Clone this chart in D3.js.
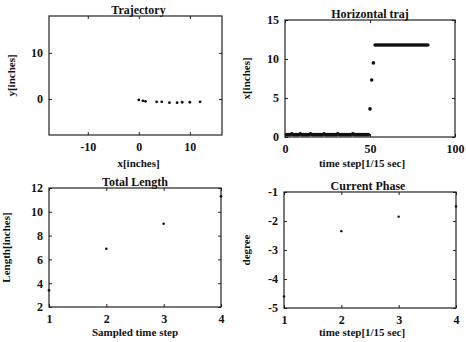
<!DOCTYPE html>
<html>
<head>
<meta charset="utf-8">
<script src="https://cdn.jsdelivr.net/npm/d3@7"></script>
<style>
  body { margin: 0; background: #fff; }
  svg text { font-family: "Liberation Serif", "DejaVu Serif", serif; fill: #111; }
</style>
</head>
<body>
<svg id="chart" width="466" height="342"></svg>
<script>
// ---------------- dados ----------------
// trajetoria (x,y em polegadas)
var trajX = [0, 0.8, 1.3, 3.5, 4.5, 6, 7.5, 8.5, 10, 12];
var trajY = [-0.2, -0.4, -0.5, -0.6, -0.6, -0.8, -0.8, -0.7, -0.7, -0.6];

// trajetoria horizontal: x[inches] por passo de tempo (passo = indice + 1)
var hzX = [
  0.3, 0.3, 0.3, 0.4, 0.3, 0.3, 0.3, 0.3, 0.4, 0.3,
  0.3, 0.3, 0.3, 0.3, 0.4, 0.3, 0.3, 0.3, 0.3, 0.3,
  0.3, 0.3, 0.4, 0.3, 0.3, 0.3, 0.3, 0.3, 0.3, 0.3,
  0.4, 0.3, 0.3, 0.3, 0.3, 0.3, 0.3, 0.3, 0.3, 0.4,
  0.3, 0.3, 0.3, 0.3, 0.3, 0.3, 0.3, 0.3, 0.3,
  3.6, 7.3, 9.5,
  11.8, 11.8, 11.8, 11.8, 11.8, 11.8, 11.8, 11.8, 11.8, 11.8,
  11.8, 11.8, 11.8, 11.8, 11.8, 11.8, 11.8, 11.8, 11.8, 11.8,
  11.8, 11.8, 11.8, 11.8, 11.8, 11.8, 11.8, 11.8, 11.8, 11.8,
  11.8, 11.8
];

// comprimento total e fase por passo amostrado
var passos = [1, 2, 3, 4];
var comprimento = [3.4, 6.9, 9.0, 11.3];
var fase = [-4.6, -2.35, -1.85, -1.5];

// ticks
var trajXTicks = [-10, 0, 10];
var trajYTicks = [0, 10];
var hzXTicks = [0, 50, 100];
var hzYTicks = [0, 5, 10, 15];
var passoTicks = [1, 2, 3, 4];
var compTicks = [2, 4, 6, 8, 10, 12];
var faseTicks = [-5, -4, -3, -2, -1];

var svg = d3.select("#chart");

// rotulo com hifen simples (como no original)
function formataTick(d) {
  return String(d);
}

//------------------------------------------------------------
// desenha um painel com caixa, ticks nos quatro lados e rotulos
function constroiPainel(cfg) {
  var g = svg.append("g");
  var xScale = d3.scaleLinear().domain(cfg.xDom).range([cfg.left, cfg.right]);
  var yScale = d3.scaleLinear().domain(cfg.yDom).range([cfg.bottom, cfg.top]);

  // eixos (ticks para dentro)
  g.append("g").attr("transform", "translate(0," + cfg.bottom + ")")
    .call(d3.axisBottom(xScale).tickValues(cfg.xTicks).tickSize(-3).tickPadding(7).tickFormat(formataTick));
  g.append("g").attr("transform", "translate(0," + cfg.top + ")")
    .call(d3.axisTop(xScale).tickValues(cfg.xTicks).tickSize(-3).tickFormat(""));
  g.append("g").attr("transform", "translate(" + cfg.left + ",0)")
    .call(d3.axisLeft(yScale).tickValues(cfg.yTicks).tickSize(-3).tickPadding(6).tickFormat(formataTick));
  g.append("g").attr("transform", "translate(" + cfg.right + ",0)")
    .call(d3.axisRight(yScale).tickValues(cfg.yTicks).tickSize(-3).tickFormat(""));

  g.selectAll(".domain").remove();
  g.selectAll(".tick line").attr("stroke", "#222");
  g.selectAll(".tick text")
    .attr("font-size", "12px")
    .attr("font-weight", "bold")
    .attr("font-family", "Liberation Serif");

  // caixa
  g.append("rect")
    .attr("x", cfg.left).attr("y", cfg.top)
    .attr("width", cfg.right - cfg.left).attr("height", cfg.bottom - cfg.top)
    .attr("fill", "none").attr("stroke", "#222").attr("stroke-width", 1.2);

  // pontos
  g.selectAll("circle.pt")
    .data(cfg.pts)
    .enter()
    .append("circle")
    .attr("class", "pt")
    .attr("cx", function(d) { return xScale(d[0]); })
    .attr("cy", function(d) { return yScale(d[1]); })
    .attr("r", cfg.r)
    .attr("fill", "#111");

  // titulo
  g.append("text")
    .attr("x", (cfg.left + cfg.right) / 2 + (cfg.titleDx || 0))
    .attr("y", cfg.top - 2)
    .attr("text-anchor", "middle")
    .attr("font-size", "12px")
    .attr("font-weight", "bold")
    .text(cfg.title);

  // rotulo x
  g.append("text")
    .attr("x", (cfg.left + cfg.right) / 2 + (cfg.xlabDx || 0))
    .attr("y", cfg.xlabY)
    .attr("text-anchor", "middle")
    .attr("font-size", "11px")
    .attr("font-weight", "bold")
    .text(cfg.xlab);

  // rotulo y
  g.append("text")
    .attr("transform", "translate(" + cfg.ylabX + "," + ((cfg.top + cfg.bottom) / 2) + ") rotate(-90)")
    .attr("text-anchor", "middle")
    .attr("font-size", "11px")
    .attr("font-weight", "bold")
    .text(cfg.ylab);
}

constroiPainel({
  left: 49, right: 222, top: 16, bottom: 135,
  xDom: [-17.6, 16.3], yDom: [-7.8, 18],
  xTicks: trajXTicks, yTicks: trajYTicks,
  pts: trajX.map(function(v, i) { return [v, trajY[i]]; }), r: 1.4,
  title: "Trajectory", titleDx: 3,
  xlab: "x[inches]", xlabY: 167, xlabDx: 3,
  ylab: "y[inches]", ylabX: 15
});

constroiPainel({
  left: 285, right: 455, top: 20, bottom: 137,
  xDom: [0, 100], yDom: [0, 15],
  xTicks: hzXTicks, yTicks: hzYTicks,
  pts: hzX.map(function(v, i) { return [i + 1, v]; }), r: 1.8,
  title: "Horizontal traj", titleDx: 0,
  xlab: "time step[1/15 sec]", xlabY: 167, xlabDx: -8,
  ylab: "x[inches]", ylabX: 250
});

constroiPainel({
  left: 49, right: 221, top: 188, bottom: 307,
  xDom: [1, 4], yDom: [2, 12],
  xTicks: passoTicks, yTicks: compTicks,
  pts: passos.map(function(v, i) { return [v, comprimento[i]]; }), r: 1.3,
  title: "Total Length", titleDx: 0,
  xlab: "Sampled time step", xlabY: 336, xlabDx: 0,
  ylab: "Length[inches]", ylabX: 10
});

constroiPainel({
  left: 284, right: 456, top: 192, bottom: 308,
  xDom: [1, 4], yDom: [-5, -1],
  xTicks: passoTicks, yTicks: faseTicks,
  pts: passos.map(function(v, i) { return [v, fase[i]]; }), r: 1.2,
  title: "Current Phase", titleDx: -2,
  xlab: "time step[1/15 sec]", xlabY: 336, xlabDx: -8,
  ylab: "degree", ylabX: 250
});
</script>
</body>
</html>
